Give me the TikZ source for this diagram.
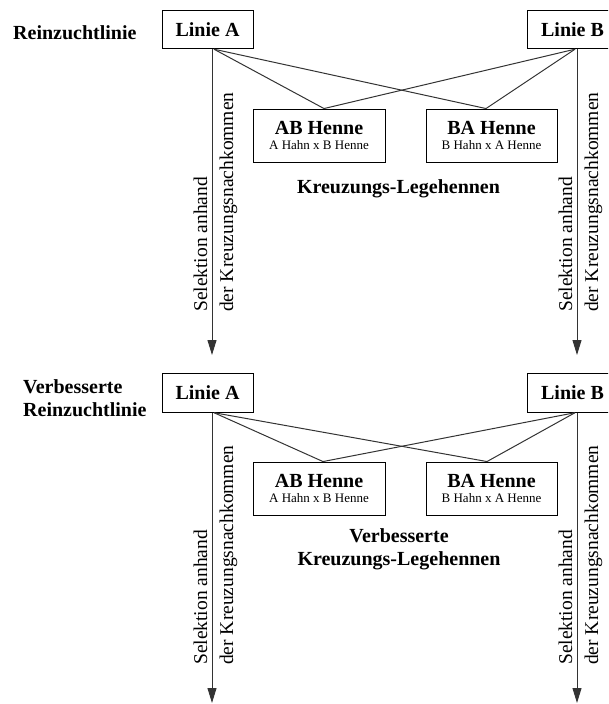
\documentclass[tikz,border=0pt]{standalone}
\usepackage{fontspec}
\setmainfont{Liberation Serif}
\usetikzlibrary{arrows.meta}

\begin{document}
\begin{tikzpicture}[x=1pt, y=-1pt,
    linie/.style={draw, line width=0.9pt, inner sep=0pt, minimum width=91pt,
      minimum height=38.5pt, font=\bfseries\fontsize{20}{24}\selectfont},
    henne/.style={draw, line width=0.9pt, inner sep=0pt, minimum width=132pt,
      minimum height=53pt, align=center, font=\bfseries\fontsize{20}{14.5}\selectfont},
    titel/.style={inner sep=0pt, align=left, font=\bfseries\fontsize{20}{23}\selectfont},
    sel/.style={inner sep=0pt, rotate=90, anchor=base west, font=\fontsize{19.5}{24}\selectfont},
    conn/.style={line width=1pt, black!80},
    pfeil/.style={conn, -{Triangle[length=15pt, width=9pt]}}]
  \clip (0,0) rectangle (608,704);

  \node[titel, anchor=base west] (rein1) at (13,39) {Reinzuchtlinie};
  \node[linie] (linieA1) at (207.5,29.5) {Linie A};
  \node[linie] (linieB1) at (572.5,29.5) {Linie B};
  \node[henne] (ab1) at (319,135.5) {AB Henne\\{\mdseries\fontsize{13}{14.5}\selectfont A Hahn x B Henne}};
  \node[henne, minimum width=131pt] (ba1) at (491.5,135.5) {BA Henne\\{\mdseries\fontsize{13}{14.5}\selectfont B Hahn x A Henne}};
  \node[titel, anchor=base] (kreuz1) at (398.5,193) {Kreuzungs-Legehennen};

  \coordinate (a1) at ([xshift=6.5pt]linieA1.south);
  \coordinate (b1) at ([xshift=2.5pt]linieB1.south);
  \draw[conn] (a1) -- ([xshift=5pt]ab1.north);
  \draw[conn] (a1) -- ([xshift=-5.5pt]ba1.north);
  \draw[conn] (b1) -- ([xshift=5pt]ab1.north);
  \draw[conn] (b1) -- ([xshift=-5.5pt]ba1.north);

  \coordinate (endA1) at (212,355);
  \coordinate (endB1) at (577,355);
  \draw[pfeil] (linieA1.south -| endA1) -- (endA1);
  \draw[pfeil] (linieB1.south -| endB1) -- (endB1);
  \node[sel] (selA1) at (207,312) {Selektion anhand};
  \node[sel] (nachA1) at (233,312) {der Kreuzungsnachkommen};
  \node[sel] (selB1) at (572,312) {Selektion anhand};
  \node[sel] (nachB1) at (598,312) {der Kreuzungsnachkommen};

  \node[titel, anchor=base west] (rein2) at (23,416) {Verbesserte\\Reinzuchtlinie};
  \node[linie] (linieA2) at (207.5,393) {Linie A};
  \node[linie] (linieB2) at (572.5,393) {Linie B};
  \node[henne] (ab2) at (319,488.5) {AB Henne\\{\mdseries\fontsize{13}{14.5}\selectfont A Hahn x B Henne}};
  \node[henne, minimum width=131pt] (ba2) at (491.5,488.5) {BA Henne\\{\mdseries\fontsize{13}{14.5}\selectfont B Hahn x A Henne}};
  \node[titel, align=center, anchor=base] (kreuz2) at (399,565) {Verbesserte\\Kreuzungs-Legehennen};

  \coordinate (a2) at ([xshift=6.5pt]linieA2.south);
  \coordinate (b2) at ([xshift=2.5pt]linieB2.south);
  \draw[conn] (a2) -- ([xshift=4pt]ab2.north);
  \draw[conn] (a2) -- ([xshift=-4.5pt]ba2.north);
  \draw[conn] (b2) -- ([xshift=4pt]ab2.north);
  \draw[conn] (b2) -- ([xshift=-4.5pt]ba2.north);

  \coordinate (endA2) at (212,703);
  \coordinate (endB2) at (577,703);
  \draw[pfeil] (linieA2.south -| endA2) -- (endA2);
  \draw[pfeil] (linieB2.south -| endB2) -- (endB2);
  \node[sel] (selA2) at (207,665) {Selektion anhand};
  \node[sel] (nachA2) at (233,665) {der Kreuzungsnachkommen};
  \node[sel] (selB2) at (572,665) {Selektion anhand};
  \node[sel] (nachB2) at (598,665) {der Kreuzungsnachkommen};
\end{tikzpicture}
\end{document}
